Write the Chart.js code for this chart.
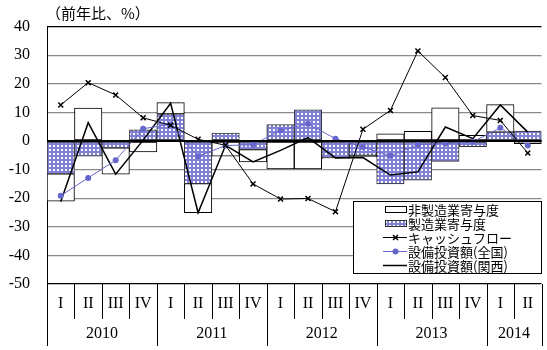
<!DOCTYPE html>
<html>
<head>
<meta charset="utf-8">
<script src="https://cdn.jsdelivr.net/npm/chart.js@4/dist/chart.umd.min.js"></script>
<style>
  html, body { margin: 0; padding: 0; background: #fff; }
  #wrap { width: 547px; height: 350px; }
</style>
</head>
<body>
<div id="wrap"><canvas id="c" width="547" height="350"></canvas></div>
<script>
// Quarter labels (2010 Q1 .. 2014 Q2) and the year groups below them
const quarterLabels = ['I','II','III','IV','I','II','III','IV','I','II','III','IV','I','II','III','IV','I','II'];
const yearLabels = ['2010','2011','2012','2013','2014'];
const yearSpans = [4, 4, 4, 4, 2];

// Contributions (percentage points)
const manufacturing    = [-11.5, -5.3, -2.4, 3.9, 9.5, -14.9, 2.8, -3.0, 5.7, 10.9, -5.9, -5.0, -15.0, -13.7, -7.1, -2.0, 3.1, 3.5];
const nonManufacturing = [-9.5, 11.5, -9.2, -3.8, 3.9, -10.2, -5.3, -4.3, -9.8, -9.8, -0.3, -0.5, 2.5, 3.4, 11.6, 2.0, 9.6, -0.9];

// Year-on-year change (%)
const cashflow      = [12.6, 20.4, 16.1, 8.1, 5.5, 0.6, -1.5, -15.0, -20.3, -20.1, -24.7, 4.1, 10.7, 31.5, 22.2, 8.9, 7.2, -4.2];
const capexNational = [-19.1, -12.9, -6.7, 4.3, 5.8, -5.3, -1.6, -1.3, 3.7, 6.0, 0.8, -2.1, -5.2, -1.3, -0.9, -0.3, 4.6, -1.6];
const capexKansai   = [-21.2, 6.4, -11.6, 0.3, 13.2, -25.1, -1.5, -7.3, -3.3, 1.2, -5.9, -5.8, -11.9, -10.8, 4.9, 0.8, 12.6, 3.1];

const legendLabels = ['非製造業寄与度', '製造業寄与度', 'キャッシュフロー', '設備投資額(全国)', '設備投資額(関西)'];
const unitLabel = '（前年比、%）';

const SERIF = '"Liberation Serif", "Times New Roman", serif';
const JP = '"Noto Sans CJK JP", sans-serif';
const BLUE = '#6666cc';

// Dotted fill for the manufacturing bars
function dotPattern() {
  const t = document.createElement('canvas');
  t.width = 4; t.height = 4;
  const g = t.getContext('2d');
  g.fillStyle = 'rgb(130,130,212)';
  g.fillRect(0, 0, 4, 4);
  g.fillStyle = '#fff';
  g.fillRect(1, 1, 2, 2);
  return g.createPattern(t, 'repeat');
}
const dots = dotPattern();

const decor = {
  id: 'decor',
  afterDatasetsDraw(chart) {
    const { ctx, chartArea: a, scales: { y } } = chart;
    const y0 = Math.round(y.getPixelForValue(0));
    ctx.save();
    ctx.strokeStyle = '#000';
    ctx.lineWidth = 2;
    ctx.beginPath();
    ctx.moveTo(a.left, y0);
    ctx.lineTo(a.right, y0);
    ctx.stroke();
    ctx.restore();
  },
  afterDraw(chart) {
    const { ctx, chartArea: a, scales: { x } } = chart;
    const w = x.getPixelForValue(1) - x.getPixelForValue(0);
    const edge = i => x.getPixelForValue(i) - w / 2;
    ctx.save();

    // unit label
    ctx.fillStyle = '#000';
    ctx.font = '15px ' + JP;
    ctx.textBaseline = 'middle';
    ctx.textAlign = 'left';
    ctx.fillText(unitLabel, 46, 13);

    // category separators
    const yearStarts = new Set();
    let acc = 0;
    yearSpans.forEach(s => { yearStarts.add(acc); acc += s; });
    yearStarts.add(acc);
    ctx.strokeStyle = '#000';
    ctx.lineWidth = 1;
    for (let i = 0; i <= quarterLabels.length; i++) {
      const px = Math.round(edge(i)) + 0.5;
      ctx.beginPath();
      ctx.moveTo(px, a.bottom);
      ctx.lineTo(px, yearStarts.has(i) ? 346 : 319);
      ctx.stroke();
    }

    // quarter labels
    ctx.font = '16px ' + SERIF;
    ctx.textAlign = 'center';
    quarterLabels.forEach((q, i) => ctx.fillText(q, x.getPixelForValue(i), 304));

    // year labels
    acc = 0;
    yearLabels.forEach((yl, k) => {
      const cx = (edge(acc) + edge(acc + yearSpans[k])) / 2;
      ctx.fillText(yl, cx, 334);
      acc += yearSpans[k];
    });

    // legend
    const lx = 353, ly = 201, lw = 188, lh = 72;
    ctx.fillStyle = '#fff';
    ctx.fillRect(lx, ly, lw, lh);
    ctx.strokeStyle = '#000';
    ctx.lineWidth = 1;
    ctx.strokeRect(lx + 0.5, ly + 0.5, lw, lh);
    const rows = [209, 223, 237, 251, 265];
    const sx0 = 385, sx1 = 406;
    rows.forEach((ry, k) => {
      ctx.save();
      if (k === 0 || k === 1) {
        ctx.fillStyle = k === 0 ? '#fff' : dots;
        ctx.fillRect(sx0, ry - 3, sx1 - sx0, 7);
        ctx.strokeStyle = k === 0 ? '#000' : '#333';
        ctx.strokeRect(sx0 + 0.5, ry - 3 + 0.5, sx1 - sx0, 6);
      } else {
        const col = k === 3 ? BLUE : '#000';
        ctx.strokeStyle = col;
        ctx.lineWidth = k === 4 ? 1.5 : 1;
        ctx.beginPath();
        ctx.moveTo(sx0 - 2, ry + 0.5);
        ctx.lineTo(sx1 + 1, ry + 0.5);
        ctx.stroke();
        const mx = (sx0 + sx1) / 2;
        if (k === 2) {
          ctx.lineWidth = 1.5;
          ctx.beginPath();
          ctx.moveTo(mx - 2.5, ry - 2); ctx.lineTo(mx + 2.5, ry + 3);
          ctx.moveTo(mx + 2.5, ry - 2); ctx.lineTo(mx - 2.5, ry + 3);
          ctx.stroke();
        } else if (k === 3) {
          ctx.fillStyle = BLUE;
          ctx.beginPath();
          ctx.arc(mx, ry + 0.5, 3, 0, Math.PI * 2);
          ctx.fill();
        }
      }
      ctx.restore();
      ctx.fillStyle = '#000';
      ctx.font = '13px ' + JP;
      ctx.textAlign = 'left';
      ctx.textBaseline = 'middle';
      ctx.fillText(legendLabels[k], 408, ry + 1);
    });

    ctx.restore();
  }
};

new Chart(document.getElementById('c'), {
  type: 'bar',
  data: {
    labels: quarterLabels,
    datasets: [
      {
        type: 'line', label: legendLabels[2], data: cashflow, stack: 'cf', order: 0,
        borderColor: '#000', borderWidth: 1, tension: 0, fill: false,
        pointStyle: 'crossRot', pointRadius: 3.5, pointBorderWidth: 1.5,
        pointBorderColor: '#000', pointBackgroundColor: '#000'
      },
      {
        type: 'line', label: legendLabels[3], data: capexNational, stack: 'nat', order: 0,
        borderColor: BLUE, borderWidth: 1, tension: 0, fill: false,
        pointStyle: 'circle', pointRadius: 3, pointBorderWidth: 0,
        pointBackgroundColor: BLUE
      },
      {
        type: 'line', label: legendLabels[4], data: capexKansai, stack: 'kan', order: 0,
        borderColor: '#000', borderWidth: 1.5, tension: 0, fill: false, pointRadius: 0
      },
      {
        type: 'bar', label: legendLabels[1], data: manufacturing, stack: 'bars', order: 1,
        backgroundColor: dots, borderColor: '#333', borderWidth: 1, borderSkipped: false
      },
      {
        type: 'bar', label: legendLabels[0], data: nonManufacturing, stack: 'bars', order: 1,
        backgroundColor: '#fff', borderColor: '#000', borderWidth: 1, borderSkipped: false
      }
    ]
  },
  options: {
    responsive: false,
    animation: false,
    devicePixelRatio: 1,
    layout: { padding: { top: 24, right: 0, bottom: 0, left: 0 } },
    datasets: { bar: { categoryPercentage: 1, barPercentage: 1 } },
    plugins: { legend: { display: false }, tooltip: { enabled: false } },
    scales: {
      x: {
        stacked: true,
        grid: { display: false },
        border: { display: false },
        ticks: { display: false },
        afterFit(s) { s.height = 66; }
      },
      y: {
        stacked: true,
        min: -50, max: 40,
        ticks: { stepSize: 10, padding: 17, color: '#000', font: { family: SERIF, size: 16 } },
        grid: {
          drawTicks: false,
          color: c => (c.tick && (c.tick.value === 40 || c.tick.value === -50 || c.tick.value === 0)) ? '#000' : '#8a8a8a',
          lineWidth: c => (c.tick && c.tick.value === 0) ? 2 : 1.2
        },
        border: { display: true, color: '#000', width: 1 },
        afterFit(s) { s.width = 47; }
      }
    }
  },
  plugins: [decor]
});
</script>
</body>
</html>
